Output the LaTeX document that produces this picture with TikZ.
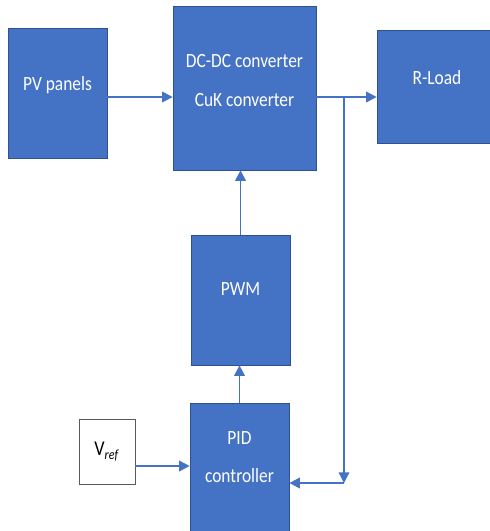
\documentclass[tikz,border=0pt]{standalone}
\usepackage{fontspec}
\setmainfont{Carlito}[FakeStretch=0.86]
\usetikzlibrary{arrows.meta, positioning}
\definecolor{BoxBlue}{HTML}{4472C4}
\definecolor{BoxEdge}{HTML}{2F528F}
\definecolor{RefGray}{HTML}{595959}

\begin{document}
\begin{tikzpicture}[
    x=0.02cm, y=-0.02cm,
    box/.style={draw=BoxEdge, fill=BoxBlue, text=white, font=\fontsize{11.5}{22}\selectfont, align=center, text depth=0.4cm, inner sep=0pt},
    refbox/.style={draw=RefGray, fill=white, font=\fontsize{12}{13}\selectfont, minimum width=1.12cm, minimum height=1.3cm, inner sep=0pt},
    link/.style={-{Triangle[length=6pt,width=6pt]}, line width=1.1pt, BoxBlue}
  ]
  \useasboundingbox (0,0) rectangle (490,531);
  \node[box, minimum width=1.98cm, minimum height=2.6cm] (pv) at (57.5,93) {PV panels};
  \node[box, minimum width=2.86cm, minimum height=3.28cm, text depth=0.3cm] (dc) at (244.5,88) {DC-DC converter\\CuK converter};
  \node[box, minimum width=2.4cm, minimum height=2.26cm, text depth=0.35cm] (rl) at (437,86.5) {R-Load};
  \node[box, minimum width=1.98cm, minimum height=2.6cm, text depth=0.45cm] (pwm) at (240.5,300) {PWM};
  \node[box, minimum width=1.98cm, minimum height=2.56cm] (pid) at (239.5,467) {PID\\controller};
  \node[refbox] (vref) at (107,451.5) {V\textsubscript{\textit{ref}}};
  \coordinate (tap) at (344,97);
  \coordinate (turn) at (344,483);
  % forward path
  \draw[link] (pv.east |- tap) -- (dc.west |- tap);
  \draw[link] (dc.east |- tap) -- (rl.west |- tap);
  % feedback path
  \draw[link, line width=0.7pt] (tap) -- (turn);
  \draw[link] (turn) -- (pid.east |- turn);
  \draw[link] ([yshift=-0.29cm]vref.east) coordinate (vin) -- (vin -| pid.west);
  \draw[link] (pid.north) -- (pid.north |- pwm.south);
  \draw[link] (pwm.north) -- (pwm.north |- dc.south);
\end{tikzpicture}
\end{document}
